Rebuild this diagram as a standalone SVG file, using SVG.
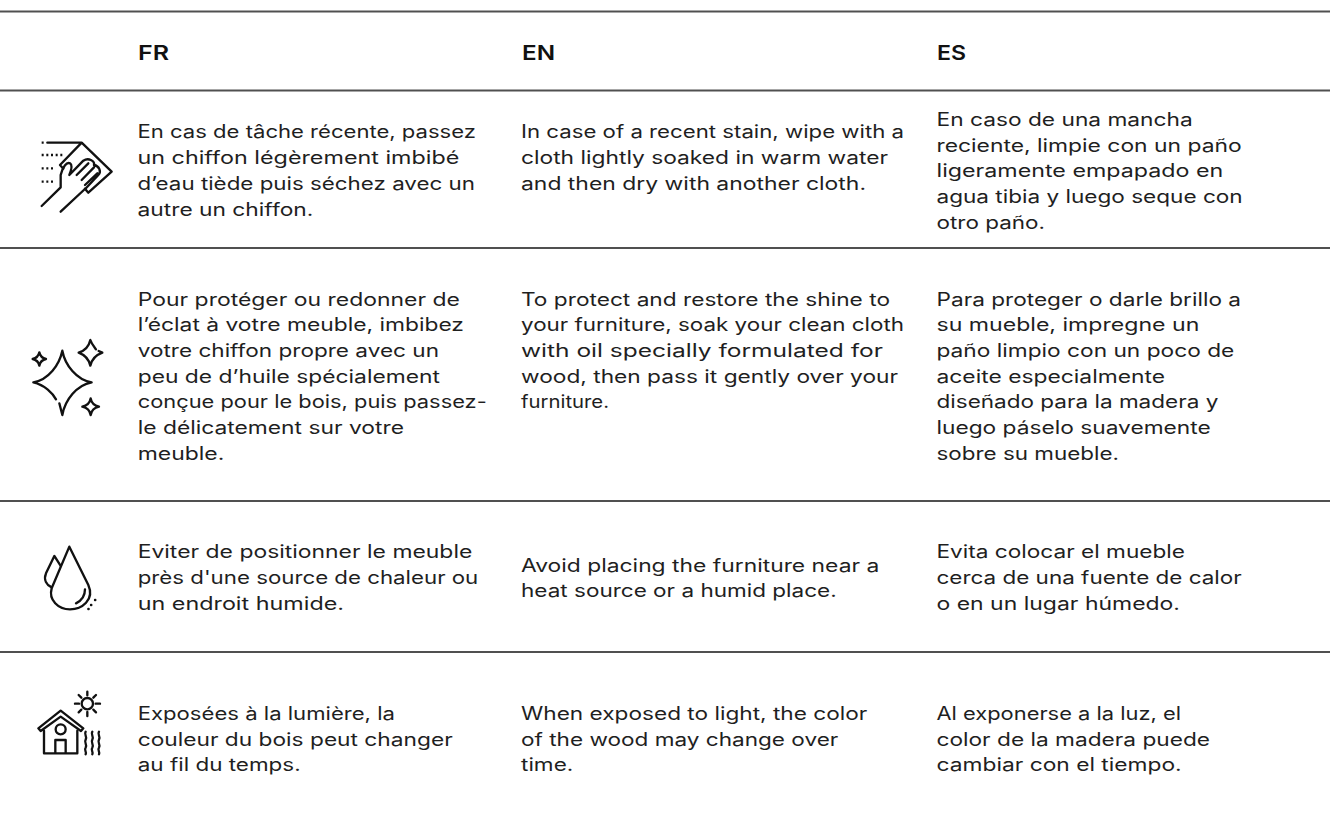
<svg xmlns="http://www.w3.org/2000/svg" width="1330" height="818" viewBox="0 0 1330 818">
<style>
text{font-family:"Inter","Liberation Sans",sans-serif;font-size:18px;fill:#1f1f1f}
.h{font-weight:600;fill:#111;font-size:20.5px}
.r{stroke:#505050;stroke-width:2;fill:none}
.i{fill:none;stroke:#111;stroke-width:7;stroke-linecap:round;stroke-linejoin:round}
</style>
<rect width="1330" height="818" fill="#fff"/>
<g id="rules">
<line class="r" x1="0" y1="11.5" x2="1330" y2="11.5"/>
<line class="r" x1="0" y1="90.5" x2="1330" y2="90.5"/>
<line class="r" x1="0" y1="248" x2="1330" y2="248"/>
<line class="r" x1="0" y1="501" x2="1330" y2="501"/>
<line class="r" x1="0" y1="652" x2="1330" y2="652"/>
</g>
<g id="header">
<text class="h" x="138" y="60" textLength="31" lengthAdjust="spacingAndGlyphs">FR</text>
<text class="h" x="522" y="60" textLength="33" lengthAdjust="spacingAndGlyphs">EN</text>
<text class="h" x="937" y="60" textLength="29" lengthAdjust="spacingAndGlyphs">ES</text>
</g>
<g id="row1">
<g class="i" transform="translate(20,130) scale(.3333)">
<path d="M82 38H185L275 125L205 188L195 176M185 38L120 105L130 116"/>
<path d="M65 38H75M65 75H130M65 115H100M65 155H100" stroke-dasharray="6 8" stroke-linecap="butt"/>
<path d="M65 228L122 172V135C128 110 140 95 150 100C158 105 155 118 148 135L190 92C205 82 225 92 222 105C238 108 245 125 235 135L195 178M170 135L205 100M185 150L222 112M195 165L232 130M122 245L198 174"/>
</g>
<text x="137.5" y="138.3" textLength="338.5" lengthAdjust="spacingAndGlyphs">En cas de tâche récente, passez</text>
<text x="137.5" y="164" textLength="321.8" lengthAdjust="spacingAndGlyphs">un chiffon légèrement imbibé</text>
<text x="137.5" y="190" textLength="337.5" lengthAdjust="spacingAndGlyphs">d’eau tiède puis séchez avec un</text>
<text x="137.5" y="215.7" textLength="175.8" lengthAdjust="spacingAndGlyphs">autre un chiffon.</text>
<text x="521" y="138.3" textLength="383" lengthAdjust="spacingAndGlyphs">In case of a recent stain, wipe with a</text>
<text x="521" y="164" textLength="367" lengthAdjust="spacingAndGlyphs">cloth lightly soaked in warm water</text>
<text x="521" y="190" textLength="345" lengthAdjust="spacingAndGlyphs">and then dry with another cloth.</text>
<text x="936.5" y="126" textLength="256.2" lengthAdjust="spacingAndGlyphs">En caso de una mancha</text>
<text x="936.5" y="151.7" textLength="305.2" lengthAdjust="spacingAndGlyphs">reciente, limpie con un paño</text>
<text x="936.5" y="177.4" textLength="286.8" lengthAdjust="spacingAndGlyphs">ligeramente empapado en</text>
<text x="936.5" y="203.1" textLength="306.2" lengthAdjust="spacingAndGlyphs">agua tibia y luego seque con</text>
<text x="936.5" y="229" textLength="108.5" lengthAdjust="spacingAndGlyphs">otro paño.</text>
</g>
<g id="row2">
<g class="i" transform="translate(20,320) scale(.3333)">
<path d="M108 238C98 220 75 195 40 187C85 180 118 135 127 92C135 135 170 180 215 187C170 195 135 240 127 285L118 250"/>
<path d="M228 88C222 80 215 72 211 60C207 78 195 92 176 98C195 105 207 120 211 137C215 120 228 105 247 98L236 93"/>
<path d="M58 97C60 107 68 115 78 117C68 119 60 127 58 137C56 127 48 119 38 117C48 115 56 107 58 97Z"/>
<path d="M212 235C214 247 224 257 237 260C224 263 214 273 212 285C210 273 200 263 187 260C200 257 210 247 212 235Z"/>
</g>
<text x="137.7" y="305.7" textLength="322.3" lengthAdjust="spacingAndGlyphs">Pour protéger ou redonner de</text>
<text x="137.7" y="331.4" textLength="326.3" lengthAdjust="spacingAndGlyphs">l’éclat à votre meuble, imbibez</text>
<text x="137.7" y="357" textLength="301.3" lengthAdjust="spacingAndGlyphs">votre chiffon propre avec un</text>
<text x="137.7" y="382.7" textLength="302.3" lengthAdjust="spacingAndGlyphs">peu de d’huile spécialement</text>
<text x="137.7" y="408.4" textLength="349" lengthAdjust="spacingAndGlyphs">conçue pour le bois, puis passez-</text>
<text x="137.7" y="434" textLength="266.3" lengthAdjust="spacingAndGlyphs">le délicatement sur votre</text>
<text x="137.7" y="459.7" textLength="86.6" lengthAdjust="spacingAndGlyphs">meuble.</text>
<text x="521" y="305.7" textLength="369" lengthAdjust="spacingAndGlyphs">To protect and restore the shine to</text>
<text x="521" y="331.4" textLength="383" lengthAdjust="spacingAndGlyphs">your furniture, soak your clean cloth</text>
<text x="521" y="357" textLength="362" lengthAdjust="spacingAndGlyphs">with oil specially formulated for</text>
<text x="521" y="382.7" textLength="377" lengthAdjust="spacingAndGlyphs">wood, then pass it gently over your</text>
<text x="521" y="408.4" textLength="88" lengthAdjust="spacingAndGlyphs">furniture.</text>
<text x="936.5" y="305.7" textLength="304.5" lengthAdjust="spacingAndGlyphs">Para proteger o darle brillo a</text>
<text x="936.5" y="331.4" textLength="262.8" lengthAdjust="spacingAndGlyphs">su mueble, impregne un</text>
<text x="936.5" y="357" textLength="297.8" lengthAdjust="spacingAndGlyphs">paño limpio con un poco de</text>
<text x="936.5" y="382.7" textLength="228.5" lengthAdjust="spacingAndGlyphs">aceite especialmente</text>
<text x="936.5" y="408.4" textLength="281.8" lengthAdjust="spacingAndGlyphs">diseñado para la madera y</text>
<text x="936.5" y="434" textLength="274.2" lengthAdjust="spacingAndGlyphs">luego páselo suavemente</text>
<text x="936.5" y="459.7" textLength="182.5" lengthAdjust="spacingAndGlyphs">sobre su mueble.</text>
</g>
<g id="row3">
<g class="i" transform="translate(20,510) scale(.3333)">
<path d="M148 110L205 225C225 270 185 298 150 298C115 298 85 270 95 235Z"/>
<path d="M122 168L103 138L78 190C70 210 80 225 95 232"/>
<path d="M195 238C195 260 185 272 168 280"/>
<path d="M225 270h1M213 285h1M205 297h1"/>
</g>
<text x="137.7" y="558.3" textLength="334.6" lengthAdjust="spacingAndGlyphs">Eviter de positionner le meuble</text>
<text x="137.7" y="584" textLength="340.6" lengthAdjust="spacingAndGlyphs">près d'une source de chaleur ou</text>
<text x="137.7" y="610" textLength="206.3" lengthAdjust="spacingAndGlyphs">un endroit humide.</text>
<text x="521" y="571.7" textLength="358.3" lengthAdjust="spacingAndGlyphs">Avoid placing the furniture near a</text>
<text x="521" y="597.4" textLength="315.7" lengthAdjust="spacingAndGlyphs">heat source or a humid place.</text>
<text x="936.5" y="558.3" textLength="248.5" lengthAdjust="spacingAndGlyphs">Evita colocar el mueble</text>
<text x="936.5" y="584" textLength="305.2" lengthAdjust="spacingAndGlyphs">cerca de una fuente de calor</text>
<text x="936.5" y="610" textLength="243.5" lengthAdjust="spacingAndGlyphs">o en un lugar húmedo.</text>
</g>
<g id="row4">
<g class="i" transform="translate(20,660) scale(.3333)">
<circle cx="202" cy="131" r="17"/>
<path d="M202 95V106M202 156V168M165 131H177M227 131H240M176 105L184 113M228 105L220 113M176 157L184 149M228 157L220 149"/>
<path d="M55 205L122 152L190 205L183 213L122 170L62 213Z"/>
<path d="M72 212V280H172V212M106 280V240H137V280"/>
<circle cx="122" cy="208" r="15"/>
<path d="M197 215c-6 10 6 14 0 24c-6 10 6 14 0 24c-6 8 4 12 0 20M217 215c-6 10 6 14 0 24c-6 10 6 14 0 24c-6 8 4 12 0 20M237 215c-6 10 6 14 0 24c-6 10 6 14 0 24c-6 8 4 12 0 20"/>
</g>
<text x="137.7" y="720" textLength="257.3" lengthAdjust="spacingAndGlyphs">Exposées à la lumière, la</text>
<text x="137.7" y="745.7" textLength="315" lengthAdjust="spacingAndGlyphs">couleur du bois peut changer</text>
<text x="137.7" y="771.4" textLength="163" lengthAdjust="spacingAndGlyphs">au fil du temps.</text>
<text x="521" y="720" textLength="346.3" lengthAdjust="spacingAndGlyphs">When exposed to light, the color</text>
<text x="521" y="745.7" textLength="317.3" lengthAdjust="spacingAndGlyphs">of the wood may change over</text>
<text x="521" y="771.4" textLength="52.3" lengthAdjust="spacingAndGlyphs">time.</text>
<text x="936.5" y="720" textLength="244.5" lengthAdjust="spacingAndGlyphs">Al exponerse a la luz, el</text>
<text x="936.5" y="745.7" textLength="273.5" lengthAdjust="spacingAndGlyphs">color de la madera puede</text>
<text x="936.5" y="771.4" textLength="245.2" lengthAdjust="spacingAndGlyphs">cambiar con el tiempo.</text>
</g>
</svg>
